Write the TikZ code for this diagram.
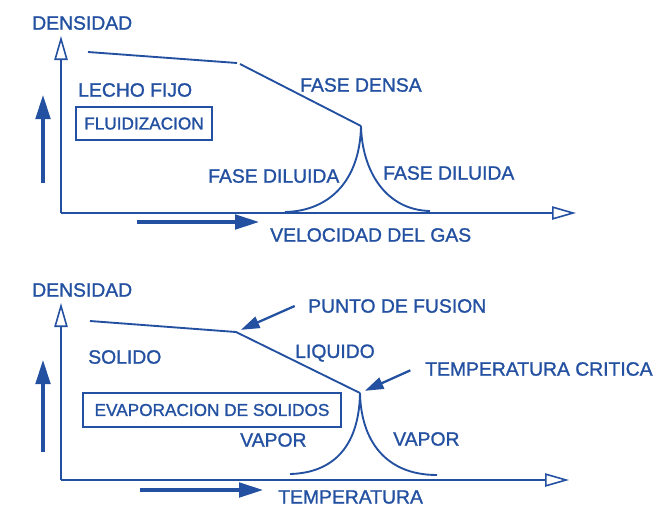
\documentclass[tikz,border=0pt]{standalone}
\usepackage{fontspec}
\setmainfont{Liberation Sans}[FakeBold=1.2]
\usetikzlibrary{arrows.meta}
\definecolor{ink}{RGB}{35,80,160}

\begin{document}
\begin{tikzpicture}[x=0.75pt, y=-0.75pt, color=ink,
  lbl/.style={anchor=west, inner sep=0pt, font=\fontsize{14.5}{16}\selectfont},
  boxlbl/.style={draw, line width=1.1pt, inner sep=0pt, font=\fontsize{12.9}{15}\selectfont},
  axis/.style={line width=1.2pt, -{Triangle[open, length=18pt, width=10pt]}},
  curve/.style={line width=1.4pt},
  bigarr/.style={line width=2.3pt, -{Triangle[length=18pt, width=11pt]}},
  ptr/.style={line width=1.7pt, shorten >=4pt, -{Triangle[length=14pt, width=9pt]}},
]
\useasboundingbox (0,0) rectangle (665,508);

% upper diagram
\coordinate (o1) at (61,213);
\coordinate (y1) at (61,36);
\coordinate (x1) at (576,213);
\draw[axis] (o1) -- (y1);
\draw[axis] (o1) -- (x1);

\coordinate (u1) at (43,183);
\coordinate (u2) at (43,95);
\coordinate (r1) at (137,222);
\coordinate (r2) at (259,222);
\draw[bigarr] (u1) -- (u2);
\draw[bigarr] (r1) -- (r2);

\coordinate (fix) at (237,63);
\coordinate (top) at (361,126);
\draw[curve] (88,52) -- (fix);
\draw[curve] (240,64) -- (top);
\draw[curve] (top) .. controls (360,180) and (330,211) .. (285,212);
\draw[curve] (top) .. controls (362,170) and (385,210) .. (430,211);

\node[lbl] (dens1) at (32,23) {DENSIDAD};
\node[lbl] (lecho) at (78,90) {LECHO FIJO};
\node[boxlbl, minimum width=102pt, minimum height=25pt] (fluid) at (144,123.5) {FLUIDIZACION};
\node[lbl] (densa) at (300,85) {FASE DENSA};
\node[lbl] (dil1) at (208,176) {FASE DILUIDA};
\node[lbl] (dil2) at (383,173) {FASE DILUIDA};
\node[lbl] (vel) at (270,235) {VELOCIDAD DEL GAS};

% lower diagram
\coordinate (o2) at (61,480);
\coordinate (y2) at (61,303);
\coordinate (x2) at (569,480);
\draw[axis] (o2) -- (y2);
\draw[axis] (o2) -- (x2);

\coordinate (u3) at (43,452);
\coordinate (u4) at (43,360);
\coordinate (r3) at (140,490);
\coordinate (r4) at (263,490);
\draw[bigarr] (u3) -- (u4);
\draw[bigarr] (r3) -- (r4);

\coordinate (fus) at (236,332);
\coordinate (crit) at (360,393);
\draw[curve] (90,321) -- (fus) -- (crit);
\draw[curve] (crit) .. controls (359,450) and (330,473) .. (290,474);
\draw[curve] (crit) .. controls (361,440) and (385,475) .. (437,475);

\node[lbl] (dens2) at (32,290) {DENSIDAD};
\node[lbl] (pfus) at (308,306) {PUNTO DE FUSION};
\node[lbl] (sol) at (88,357) {SOLIDO};
\node[lbl] (liq) at (295,353) {LIQUIDO};
\node[lbl] (tcrit) at (425,369) {TEMPERATURA CRITICA};
\node[boxlbl, minimum width=193.5pt, minimum height=25.5pt] (evap) at (212,410) {EVAPORACION DE SOLIDOS};
\node[lbl] (vap1) at (240,440) {VAPOR};
\node[lbl] (vap2) at (393,439) {VAPOR};
\node[lbl] (temp) at (278,497) {TEMPERATURA};

\draw[ptr] ([xshift=-10pt]pfus.west) -- (fus);
\draw[ptr] ([xshift=-11pt, yshift=-1pt]tcrit.west) -- (crit);
\end{tikzpicture}
\end{document}
